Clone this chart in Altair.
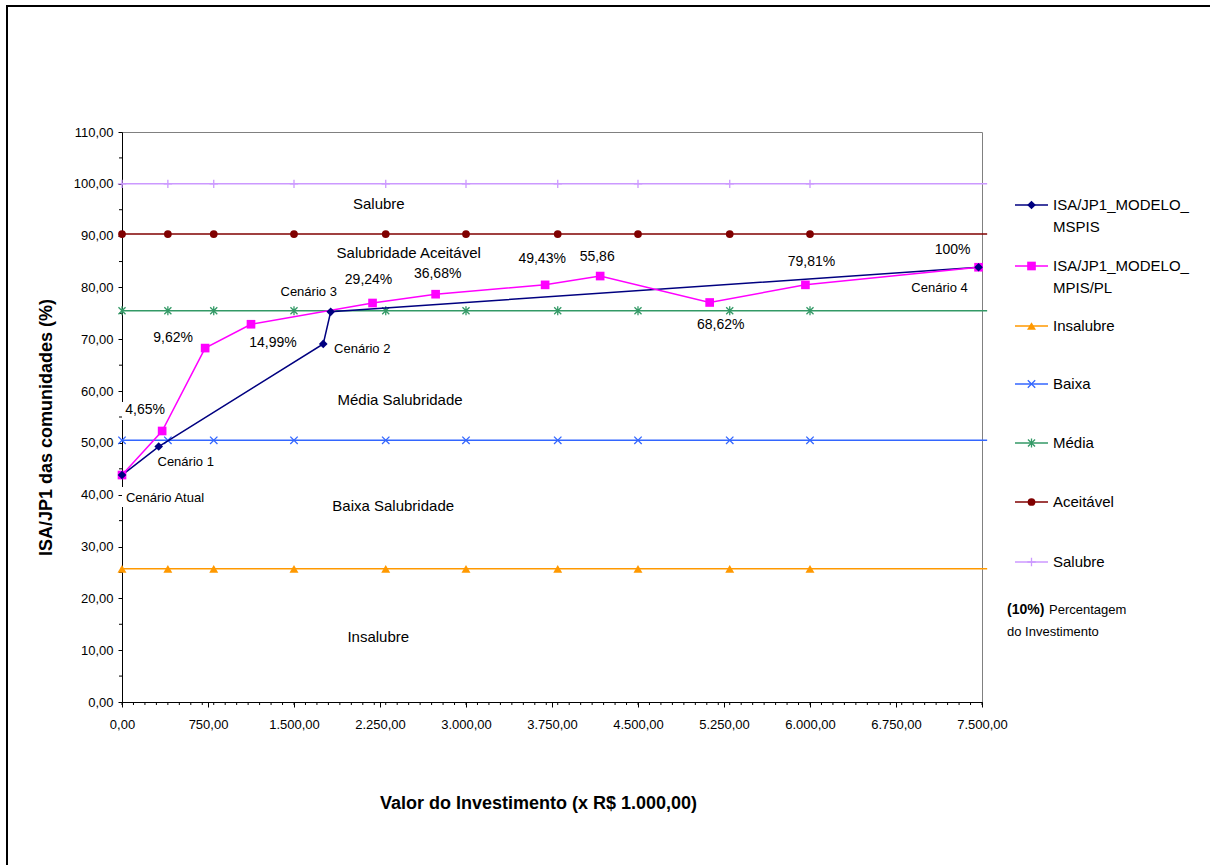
import altair as alt
import pandas as pd

# ---------------------------------------------------------------
# Values: investment (x R$ 1.000,00) and ISA/JP1 (%) per scenario
# ---------------------------------------------------------------
mspis_x = [0, 320, 1755, 1820, 7470]
mspis_y = [43.8, 49.3, 69.1, 75.3, 83.9]
mspis_names = ["Cenário Atual", "Cenário 1", "Cenário 2", "Cenário 3", "Cenário 4"]

mpis_x = [0, 350, 725, 1125, 2185, 2735, 3690, 4170, 5125, 5960, 7470]
mpis_y = [43.8, 52.3, 68.3, 72.9, 77.0, 78.7, 80.5, 82.2, 77.1, 80.5, 83.9]
mpis_pct = ["", "4,65%", "9,62%", "14,99%", "29,24%", "36,68%", "49,43%",
            "55,86", "68,62%", "79,81%", "100%"]

# Salubrity thresholds drawn as flat series
band_names = ["Insalubre", "Baixa", "Média", "Aceitável", "Salubre"]
band_levels = [25.7, 50.5, 75.5, 90.3, 100.0]
band_marker_x = [0, 400, 800, 1500, 2300, 3000, 3800, 4500, 5300, 6000]
band_line_end = 7545

# Zone captions inside the plot
zone_names = ["Salubre", "Salubridade Aceitável", "Média Salubridade",
              "Baixa Salubridade", "Insalubre"]
zone_x = [2240, 2500, 2425, 2365, 2235]
zone_y = [96.1, 86.6, 58.3, 37.8, 12.5]

# Axis ticks
x_major = list(range(0, 7501, 750))
x_minor = list(range(0, 7501, 100))
y_major = list(range(0, 111, 10))
y_minor = list(range(5, 110, 10))

# ---------------------------------------------------------------
FONT = "Liberation Sans"
W, H = 860, 570

X_AXIS = alt.Axis(
    values=x_major,
    labelExpr="replace(replace(replace(format(datum.value, ',.2f'), ',', ' '), '.', ','), ' ', '.')",
    title="Valor do Investimento (x R$ 1.000,00)",
    titleFont=FONT, titleFontSize=18, titleFontWeight="bold", titleColor="black",
    titleX=416, titleY=101, titleAlign="center", titleBaseline="middle",
    labelFont=FONT, labelFontSize=13, labelColor="black", labelPadding=11,
    labelFlush=False, labelOverlap=False,
    domainColor="black", tickColor="black", tickSize=5, grid=False,
)
Y_AXIS = alt.Axis(
    values=y_major,
    labelExpr="replace(format(datum.value, '.2f'), '.', ',')",
    title="ISA/JP1 das comunidades (%)",
    titleFont=FONT, titleFontSize=18, titleFontWeight="bold", titleColor="black",
    titleX=-76, titleY=295, titleAngle=270, titleAlign="center", titleBaseline="middle",
    labelFont=FONT, labelFontSize=13, labelColor="black", labelPadding=5,
    labelFlush=False, labelOverlap=False,
    domainColor="black", tickColor="black", tickSize=4, grid=False,
)
XS = alt.Scale(domain=[0, 7500], nice=False, zero=False)
YS = alt.Scale(domain=[0, 110], nice=False, zero=False)


def X(field="x"):
    return alt.X(f"{field}:Q", scale=XS, axis=X_AXIS)


def Y(field="y"):
    return alt.Y(f"{field}:Q", scale=YS, axis=Y_AXIS)


X_PATH = "M-1,-1L1,1M-1,1L1,-1"
STAR_PATH = "M-1,-1L1,1M-1,1L1,-1M0,-1.3L0,1.3"
PLUS_PATH = "M-1,0L1,0M0,-1L0,1"

styles = {
    "ISA/JP1_MODELO_MSPIS": dict(color="#000080", shape="diamond", size=75, filled=True),
    "ISA/JP1_MODELO_MPIS/PL": dict(color="#FF00FF", shape="square", size=75, filled=True),
    "Insalubre": dict(color="#FF9900", shape="triangle-up", size=80, filled=True),
    "Baixa": dict(color="#3366FF", shape=X_PATH, size=55, filled=False),
    "Média": dict(color="#339966", shape=STAR_PATH, size=50, filled=False),
    "Aceitável": dict(color="#800000", shape="circle", size=60, filled=True),
    "Salubre": dict(color="#CC99FF", shape=PLUS_PATH, size=70, filled=False),
}


def marker(df, st, **enc):
    if st["filled"]:
        m = alt.Chart(df).mark_point(shape=st["shape"], size=st["size"], filled=True,
                                     color=st["color"], opacity=1)
    else:
        m = alt.Chart(df).mark_point(shape=st["shape"], size=st["size"], filled=False,
                                     stroke=st["color"], strokeWidth=1.3, opacity=1)
    return m.encode(**enc)


layers = []

# outer frame of the figure
layers.append(
    alt.Chart(pd.DataFrame({"k": [0]})).mark_rect(fillOpacity=0, stroke="black", strokeWidth=2)
    .encode(x=alt.value(-115), x2=alt.value(W + 250), y=alt.value(-126), y2=alt.value(H + 190))
)

# minor ticks
layers.append(
    alt.Chart(pd.DataFrame({"x": x_minor})).mark_rule(color="black", strokeWidth=1)
    .encode(x=X(), y=alt.value(H), y2=alt.value(H + 3))
)
layers.append(
    alt.Chart(pd.DataFrame({"y": y_minor})).mark_rule(color="black", strokeWidth=1)
    .encode(y=Y(), x=alt.value(-3), x2=alt.value(0))
)

# white boxes behind the two labels that sit on the y axis
layers.append(
    alt.Chart(pd.DataFrame({"k": [0]})).mark_rect(color="white")
    .encode(x=alt.value(0), x2=alt.value(48), y=alt.value(270), y2=alt.value(288))
)
layers.append(
    alt.Chart(pd.DataFrame({"k": [0]})).mark_rect(color="white")
    .encode(x=alt.value(0), x2=alt.value(90), y=alt.value(355), y2=alt.value(375))
)

# threshold series
for name, level in zip(band_names, band_levels):
    st = styles[name]
    line_df = pd.DataFrame({"x": [0, band_line_end], "y": [level, level]})
    pts_df = pd.DataFrame({"x": band_marker_x, "y": [level] * len(band_marker_x)})
    layers.append(alt.Chart(line_df).mark_line(color=st["color"], strokeWidth=1.5)
                  .encode(x=X(), y=Y()))
    layers.append(marker(pts_df, st, x=X(), y=Y()))

# model series
mspis_df = pd.DataFrame({"x": mspis_x, "y": mspis_y, "lab": mspis_names})
mpis_df = pd.DataFrame({"x": mpis_x, "y": mpis_y, "lab": mpis_pct})

for df, name in [(mspis_df, "ISA/JP1_MODELO_MSPIS"), (mpis_df, "ISA/JP1_MODELO_MPIS/PL")]:
    st = styles[name]
    layers.append(alt.Chart(df).mark_line(color=st["color"], strokeWidth=1.5)
                  .encode(x=X(), y=Y()))
for df, name in [(mpis_df, "ISA/JP1_MODELO_MPIS/PL"), (mspis_df, "ISA/JP1_MODELO_MSPIS")]:
    layers.append(marker(df, styles[name], x=X(), y=Y()))

# point labels, offset from their points (pixels)
pct_offsets = {
    "4,65%": (-17, -21), "9,62%": (-32, -10), "14,99%": (22, 19), "29,24%": (-4, -23),
    "36,68%": (2, -20), "49,43%": (-3, -26), "55,86": (-3, -19), "68,62%": (11, 23),
    "79,81%": (6, -23), "100%": (-26, -17),
}
scen_offsets = {
    "Cenário Atual": (43, 23), "Cenário 1": (27, 15), "Cenário 2": (39, 5),
    "Cenário 3": (-22, -20), "Cenário 4": (-39, 21),
}
for i, lab in enumerate(mpis_pct):
    if lab in pct_offsets:
        dx, dy = pct_offsets[lab]
        layers.append(
            alt.Chart(mpis_df.iloc[[i]]).mark_text(font=FONT, fontSize=14, color="black",
                                                   dx=dx, dy=dy, baseline="middle")
            .encode(x=X(), y=Y(), text="lab:N")
        )
for i, lab in enumerate(mspis_names):
    dx, dy = scen_offsets[lab]
    layers.append(
        alt.Chart(mspis_df.iloc[[i]]).mark_text(font=FONT, fontSize=13, color="black",
                                                dx=dx, dy=dy, baseline="middle")
        .encode(x=X(), y=Y(), text="lab:N")
    )

# zone captions
zone_df = pd.DataFrame({"x": zone_x, "y": zone_y, "lab": zone_names})
layers.append(
    alt.Chart(zone_df).mark_text(font=FONT, fontSize=15, color="black", baseline="middle")
    .encode(x=X(), y=Y(), text="lab:N")
)

# legend (drawn to the right of the plot)
legend_rows = [
    ("ISA/JP1_MODELO_MSPIS", ["ISA/JP1_MODELO_", "MSPIS"], 73),
    ("ISA/JP1_MODELO_MPIS/PL", ["ISA/JP1_MODELO_", "MPIS/PL"], 134),
    ("Insalubre", ["Insalubre"], 194),
    ("Baixa", ["Baixa"], 252),
    ("Média", ["Média"], 311),
    ("Aceitável", ["Aceitável"], 370),
    ("Salubre", ["Salubre"], 430),
]
one = pd.DataFrame({"k": [0]})
for name, lines, ly in legend_rows:
    st = styles[name]
    layers.append(alt.Chart(one).mark_rule(color=st["color"], strokeWidth=1.5)
                  .encode(x=alt.value(893), x2=alt.value(926), y=alt.value(ly)))
    layers.append(marker(one, st, x=alt.value(909.5), y=alt.value(ly)))
    for j, txt in enumerate(lines):
        layers.append(alt.Chart(one).mark_text(font=FONT, fontSize=15, color="black",
                                               align="left", baseline="middle")
                      .encode(x=alt.value(931), y=alt.value(ly + 22 * j), text=alt.value(txt)))

layers.append(alt.Chart(one).mark_text(font=FONT, fontSize=14, fontWeight="bold", color="black",
                                       align="left", baseline="middle")
              .encode(x=alt.value(885), y=alt.value(478), text=alt.value("(10%)")))
layers.append(alt.Chart(one).mark_text(font=FONT, fontSize=13, color="black",
                                       align="left", baseline="middle")
              .encode(x=alt.value(927), y=alt.value(478), text=alt.value("Percentagem")))
layers.append(alt.Chart(one).mark_text(font=FONT, fontSize=13, color="black",
                                       align="left", baseline="middle")
              .encode(x=alt.value(885), y=alt.value(500), text=alt.value("do Investimento")))

chart = (
    alt.layer(*layers)
    .properties(
        width=W, height=H, background="white",
        autosize=alt.AutoSizeParams(type="none"),
        padding={"left": 122, "top": 132, "right": 228, "bottom": 163},
    )
    .configure_view(stroke="#808080", strokeWidth=1)
)

chart.save("out.html", embed_options={"renderer": "svg", "actions": False})
